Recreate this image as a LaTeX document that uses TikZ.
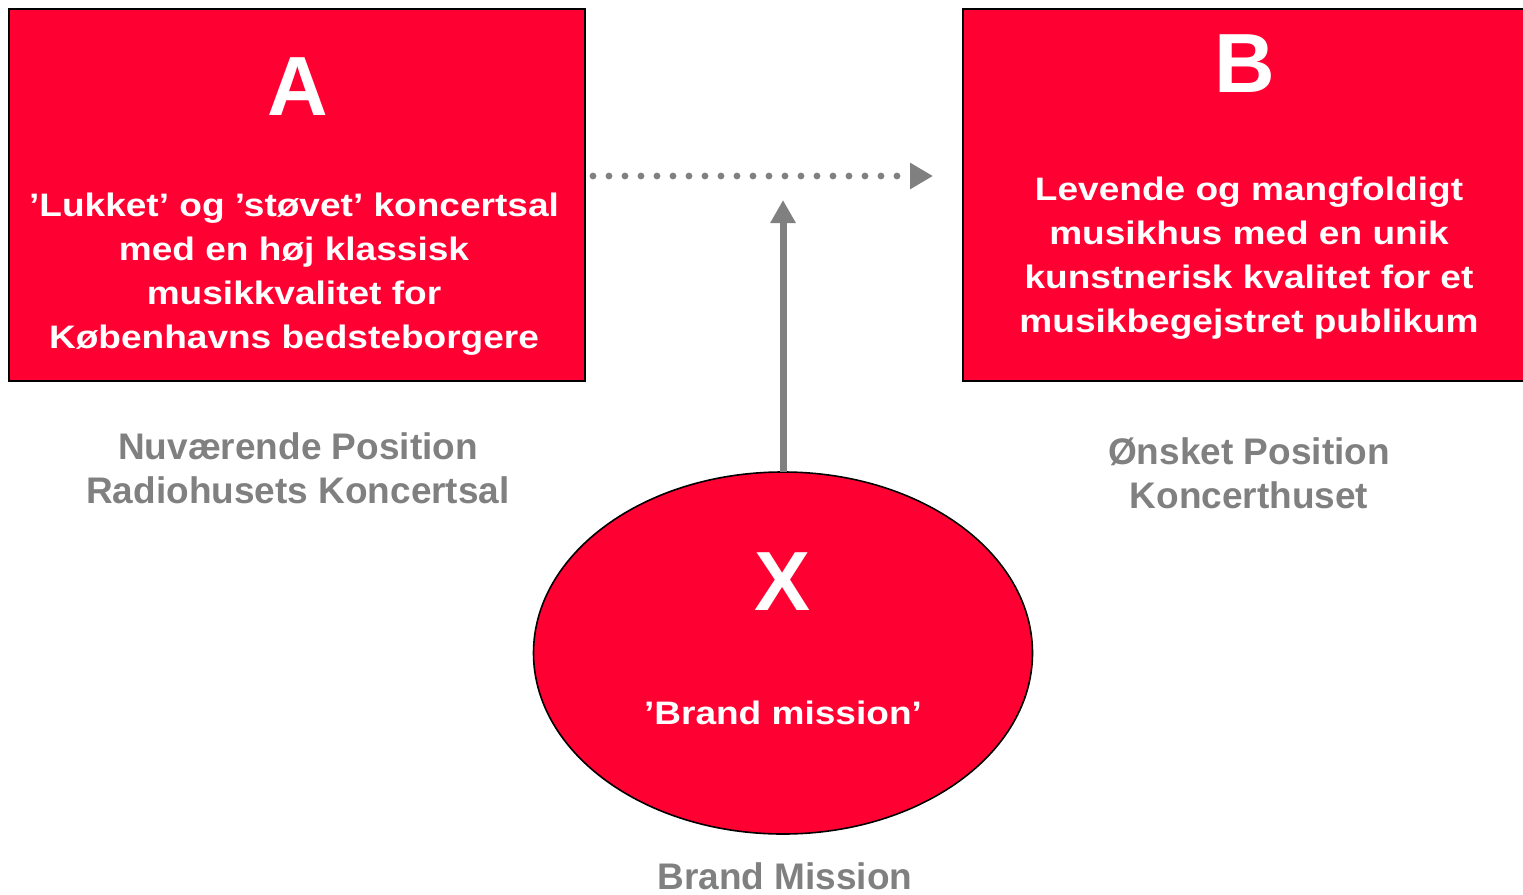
\documentclass[tikz,border=0pt]{standalone}
\usepackage{fontspec}
\setmainfont{Liberation Sans}
\newfontfamily\widefont{Liberation Sans}[FakeStretch=1.14]
\usetikzlibrary{arrows.meta,shapes.geometric}
\definecolor{boxred}{RGB}{255,0,51}
\definecolor{labelgray}{RGB}{128,128,128}
\begin{document}
\begin{tikzpicture}[x=1pt,y=-1pt,
  redbox/.style={draw=black,line width=2pt,fill=boxred,rectangle,inner sep=0pt,outer sep=0pt},
  redoval/.style={draw=black,line width=1.6pt,fill=boxred,ellipse,inner sep=0pt,outer sep=0pt},
  bigletter/.style={text=white,font=\fontsize{84}{84}\selectfont\bfseries,anchor=base,inner sep=0pt},
  boxtext/.style={text=white,font=\widefont\fontsize{32.5}{44}\selectfont\bfseries,align=center,anchor=base,inner sep=0pt},
  graylabel/.style={text=labelgray,font=\fontsize{37}{44}\selectfont\bfseries,align=center,anchor=base,inner sep=0pt},
  dotarrow/.style={draw=labelgray,line width=6.8pt,line cap=round,dash pattern=on 0pt off 16pt,-{Triangle[length=23pt,width=25pt]}},
  solidarrow/.style={draw=labelgray,line width=7pt,-{Triangle[length=23pt,width=24pt]}}
]
\clip (0,0) rectangle (1523,894);
\node[redbox,minimum width=576pt,minimum height=372pt] (boxA) at (297,195) {};
\node[redbox,minimum width=580pt,minimum height=372pt] (boxB) at (1253,195) {};
\node[redoval,minimum width=499pt,minimum height=362pt] (oval) at (783,653) {};
\coordinate (dotend) at (933,176);
\coordinate (uptip) at (783,200);
\draw[dotarrow] ([shift={(8,-19)}]boxA.east) -- (dotend);
\draw[solidarrow] (oval.north) -- (uptip);
\node[bigletter] (Aletter) at (298,115) {A};
\node[bigletter] (Bletter) at (1245,92) {B};
\node[bigletter] (Xletter) at (783,610) {X};
\node[boxtext] (Atext) at (294,348) {’Lukket’ og ’støvet’ koncertsal\\med en høj klassisk\\musikkvalitet for\\Københavns bedsteborgere};
\node[boxtext] (Btext) at (1249,332) {Levende og mangfoldigt\\musikhus med en unik\\kunstnerisk kvalitet for et\\musikbegejstret publikum};
\node[boxtext] (Xtext) at (783,724) {’Brand mission’};
\node[graylabel] (Alabel) at (298,503) {Nuværende Position\\Radiohusets Koncertsal};
\node[graylabel] (Blabel) at (1249,508) {Ønsket Position\\Koncerthuset};
\node[graylabel] (Xlabel) at (785,889) {Brand Mission};
\end{tikzpicture}
\end{document}
